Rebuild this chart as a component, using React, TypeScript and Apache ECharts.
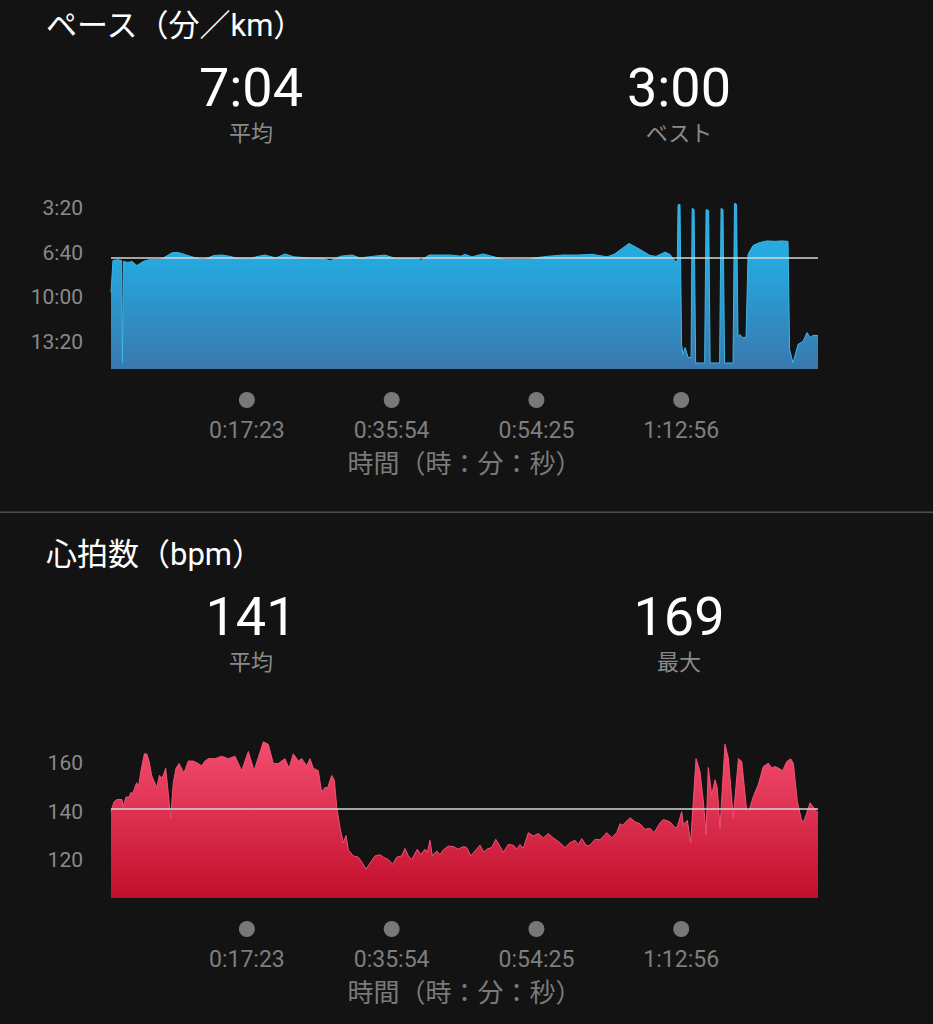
import React, { useEffect, useRef } from "react";
import * as echarts from "echarts";

// ---- data (elapsed seconds) ----
const totalTime = 5426;
const timeTicks = [1043, 2154, 3265, 4376];

// pace: seconds per km
const paceTimes = [
  0, 15, 54, 81, 88, 96, 130, 161, 200, 246,
  292, 376, 422, 468, 514, 553, 622, 706, 791, 852,
  906, 959, 1067, 1128, 1182, 1266, 1335, 1405, 1520, 1627,
  1681, 1765, 1850, 1911, 2019, 2103, 2187, 2356, 2379, 2441,
  2602, 2686, 2717, 2771, 2855, 2940, 3024, 3216, 3247, 3362,
  3469, 3584, 3692, 3807, 3861, 3976, 4060, 4137, 4183, 4252,
  4290, 4329, 4346, 4352, 4367, 4379, 4390, 4406, 4429, 4452,
  4460, 4475, 4487, 4556, 4567, 4587, 4598, 4671, 4682, 4697,
  4709, 4774, 4785, 4801, 4812, 4827, 4847, 4874, 4889, 4928,
  4981, 5035, 5096, 5150, 5196, 5208, 5234, 5273, 5311, 5342,
  5365, 5388, 5426,
];
const paceValues = [
  578, 435, 432, 435, 893, 440, 444, 440, 458, 440,
  432, 432, 417, 401, 400, 406, 419, 432, 413, 411,
  416, 424, 427, 417, 411, 424, 406, 419, 424, 427,
  437, 416, 411, 424, 416, 411, 427, 427, 435, 411,
  411, 416, 408, 419, 406, 419, 432, 432, 424, 416,
  411, 411, 408, 419, 408, 359, 386, 413, 417, 398,
  408, 438, 440, 187, 185, 810, 855, 824, 868, 868,
  203, 208, 893, 893, 208, 212, 893, 893, 203, 208,
  893, 893, 180, 185, 775, 766, 779, 779, 408, 368,
  355, 348, 350, 348, 350, 833, 893, 810, 797, 757,
  779, 770, 770,
];
const paceTicks = [200, 400, 600, 800];
const paceMin = 0;
const paceMax = 920;
const paceAvg = 424;
const paceBest = 180;

// heart rate: bpm
const hrTimes = [
  0, 23, 46, 84, 94, 115, 138, 154, 163, 197,
  210, 230, 256, 274, 292, 312, 351, 371, 389, 401,
  420, 435, 458, 478, 499, 522, 560, 593, 632, 670,
  696, 721, 747, 798, 850, 900, 952, 1003, 1054, 1098,
  1169, 1207, 1246, 1284, 1335, 1366, 1399, 1438, 1464, 1502,
  1527, 1553, 1591, 1617, 1642, 1663, 1694, 1714, 1732, 1758,
  1783, 1804, 1821, 1860, 1898, 1924, 1957, 1988, 2026, 2065,
  2090, 2128, 2162, 2193, 2231, 2256, 2282, 2308, 2351, 2377,
  2410, 2428, 2448, 2466, 2500, 2525, 2550, 2589, 2627, 2666,
  2704, 2730, 2761, 2794, 2832, 2863, 2883, 2922, 2953, 2980,
  3011, 3049, 3088, 3114, 3139, 3164, 3203, 3241, 3280, 3318,
  3356, 3395, 3446, 3484, 3523, 3561, 3587, 3613, 3651, 3676,
  3715, 3753, 3805, 3843, 3881, 3907, 3927, 3983, 4022, 4060,
  4098, 4137, 4168, 4214, 4239, 4290, 4329, 4346, 4380, 4392,
  4423, 4449, 4469, 4490, 4520, 4546, 4567, 4584, 4610, 4636,
  4653, 4674, 4712, 4738, 4776, 4815, 4841, 4879, 4897, 4930,
  4968, 5006, 5045, 5071, 5096, 5121, 5155, 5186, 5217, 5237,
  5267, 5301, 5319, 5365, 5404, 5426,
];
const hrValues = [
  140, 144, 145, 145, 142, 146, 146, 148, 147, 152,
  150, 157, 164, 164, 161, 155, 150, 155, 154, 155,
  158, 150, 137, 152, 158, 160, 156, 161, 161, 160,
  159, 161, 162, 162, 163, 162, 163, 157, 165, 157,
  169, 168, 160, 160, 162, 158, 164, 161, 162, 159,
  162, 158, 157, 148, 150, 150, 155, 153, 142, 133,
  127, 130, 124, 121.5, 121, 119, 116, 118.5, 121.5, 122,
  121, 120, 118, 121, 121.5, 124.6, 121.5, 120, 124.3, 122,
  124.3, 123, 128, 121.5, 123.6, 122, 124, 125.6, 125.4, 124.3,
  125.4, 125, 121.5, 123.6, 126, 123, 124.3, 125, 128.4, 126,
  123, 126.3, 126, 124.3, 126.3, 124.6, 131.2, 129.8, 130.8, 129,
  130.8, 129, 127, 125, 127, 128, 126.3, 128.7, 125.6, 126,
  128.4, 128.2, 131.2, 129.1, 131.2, 134.9, 134.3, 137.4, 135.7, 134.9,
  132.6, 133, 131.2, 135.3, 136.7, 135.7, 133.3, 133.5, 139.9, 134.6,
  136.3, 127, 144.3, 162, 156.7, 144.3, 130.5, 158.3, 147, 153.2,
  149.8, 133, 168, 162.2, 137.4, 162, 160.8, 140.1, 140.4, 146.3,
  151.2, 158.7, 160.1, 158.1, 158.7, 158.1, 157, 160.8, 161.9, 160.1,
  144.3, 136, 136, 143.6, 140.8, 139.5,
];
const hrTicks = [120, 140, 160];
const hrMin = 104;
const hrMax = 176;
const hrAvg = 141;
const hrPeak = 169;

// ---- texts ----
const paceTitle = "ペース（分／km）";
const hrTitle = "心拍数（bpm）";
const avgLabel = "平均";
const bestLabel = "ベスト";
const maxLabel = "最大";
const timeAxisName = "時間（時：分：秒）";

const FONT = "Roboto, 'Noto Sans CJK JP', sans-serif";

function mmss(s: number): string {
  const m = Math.floor(s / 60);
  const r = Math.round(s - m * 60);
  return `${m}:${String(r).padStart(2, "0")}`;
}
function hmmss(s: number): string {
  const h = Math.floor(s / 3600);
  const m = Math.floor((s - h * 3600) / 60);
  const r = Math.round(s - h * 3600 - m * 60);
  return `${h}:${String(m).padStart(2, "0")}:${String(r).padStart(2, "0")}`;
}

function xAxisFor(gridIndex: number) {
  return {
    type: "value",
    gridIndex,
    min: 0,
    max: totalTime,
    axisLine: { show: false },
    axisTick: { show: false },
    splitLine: { show: false },
    axisLabel: {
      customValues: timeTicks,
      margin: 16,
      formatter: (v: number) => `{dot| }\n{t|${hmmss(v)}}`,
      rich: {
        dot: { width: 16, height: 16, borderRadius: 8, backgroundColor: "#787878", lineHeight: 30 },
        t: { fontSize: 23, color: "#7e7e7e", lineHeight: 30, fontFamily: FONT },
      },
    },
    name: timeAxisName,
    nameLocation: "middle",
    nameGap: 82,
    nameTextStyle: { fontSize: 26, color: "#7a7a7a", fontFamily: FONT },
  };
}

function headerTexts(title: string, top: number, leftVal: string, leftLbl: string, rightVal: string, rightLbl: string) {
  const big = `54px ${FONT}`;
  const small = `22px ${FONT}`;
  const mk = (text: string, x: number, y: number, font: string, fill: string, align: string, lh: number) => ({
    type: "text",
    x,
    y,
    style: {
      text,
      font,
      fill,
      lineHeight: lh,
      align,
      textAlign: align,
      verticalAlign: "middle",
      textVerticalAlign: "middle",
    },
  });
  return [
    mk(title, 46, top, `31px ${FONT}`, "#ffffff", "left", 34),
    mk(leftVal, 251, top + 62, big, "#ffffff", "center", 44),
    mk(leftLbl, 251, top + 108, small, "#8a8a8a", "center", 24),
    mk(rightVal, 679, top + 62, big, "#ffffff", "center", 44),
    mk(rightLbl, 679, top + 108, small, "#8a8a8a", "center", 24),
  ];
}

export default function App() {
  const ref = useRef<HTMLDivElement | null>(null);

  useEffect(() => {
    document.body.style.margin = "0";
    document.body.style.background = "#131313";
    if (!ref.current) return;
    const chart = echarts.init(ref.current, undefined, { renderer: "svg" });

    const paceData = paceTimes.map((t, i) => [t, paceValues[i]]);
    const hrData = hrTimes.map((t, i) => [t, hrValues[i]]);

    const option: any = {
      animation: false,
      backgroundColor: "#131313",
      textStyle: { fontFamily: FONT },
      grid: [
        { left: 111, right: 115, top: 163, height: 206 },
        { left: 111, right: 115, top: 725, height: 173 },
      ],
      xAxis: [xAxisFor(0), xAxisFor(1)],
      yAxis: [
        {
          type: "value",
          gridIndex: 0,
          inverse: true,
          min: paceMin,
          max: paceMax,
          axisLine: { show: false },
          axisTick: { show: false },
          splitLine: { show: false },
          axisLabel: {
            customValues: paceTicks,
            formatter: (v: number) => mmss(v),
            margin: 28,
            fontSize: 21,
            color: "#8a8a8a",
            fontFamily: FONT,
          },
        },
        {
          type: "value",
          gridIndex: 1,
          min: hrMin,
          max: hrMax,
          axisLine: { show: false },
          axisTick: { show: false },
          splitLine: { show: false },
          axisLabel: {
            customValues: hrTicks,
            margin: 28,
            fontSize: 21,
            color: "#8a8a8a",
            fontFamily: FONT,
          },
        },
      ],
      series: [
        {
          type: "line",
          xAxisIndex: 0,
          yAxisIndex: 0,
          data: paceData,
          symbol: "none",
          showSymbol: false,
          lineStyle: { width: 1, color: "#3cb6e6" },
          areaStyle: {
            origin: "end",
            opacity: 1,
            color: new echarts.graphic.LinearGradient(0, 0, 0, 1, [
              { offset: 0, color: "#27b0e6" },
              { offset: 0.35, color: "#25a8de" },
              { offset: 1, color: "#3978ae" },
            ]),
          },
          markLine: {
            silent: true,
            symbol: "none",
            label: { show: false },
            lineStyle: { color: "#d6d6d6", width: 1.5, type: "solid" },
            data: [{ yAxis: paceAvg }],
          },
        },
        {
          type: "line",
          xAxisIndex: 1,
          yAxisIndex: 1,
          data: hrData,
          symbol: "none",
          showSymbol: false,
          lineStyle: { width: 1, color: "#f25274" },
          areaStyle: {
            origin: "start",
            opacity: 1,
            color: new echarts.graphic.LinearGradient(0, 0, 0, 1, [
              { offset: 0, color: "#f44d70" },
              { offset: 1, color: "#c10f2b" },
            ]),
          },
          markLine: {
            silent: true,
            symbol: "none",
            label: { show: false },
            lineStyle: { color: "#d6d6d6", width: 1.5, type: "solid" },
            data: [{ yAxis: hrAvg }],
          },
        },
      ],
      graphic: {
        elements: [
          ...headerTexts(paceTitle, 25, mmss(paceAvg), avgLabel, mmss(paceBest), bestLabel),
          {
            type: "rect",
            shape: { x: 0, y: 511.5, width: 933, height: 1.5 },
            style: { fill: "#4e4e4e" },
          },
          ...headerTexts(hrTitle, 554, String(hrAvg), avgLabel, String(hrPeak), maxLabel),
        ],
      },
    };

    chart.setOption(option);
    return () => chart.dispose();
  }, []);

  return (
    <div
      ref={ref}
      style={{ position: "fixed", left: 0, top: 0, width: 933, height: 1024, background: "#131313" }}
    />
  );
}
